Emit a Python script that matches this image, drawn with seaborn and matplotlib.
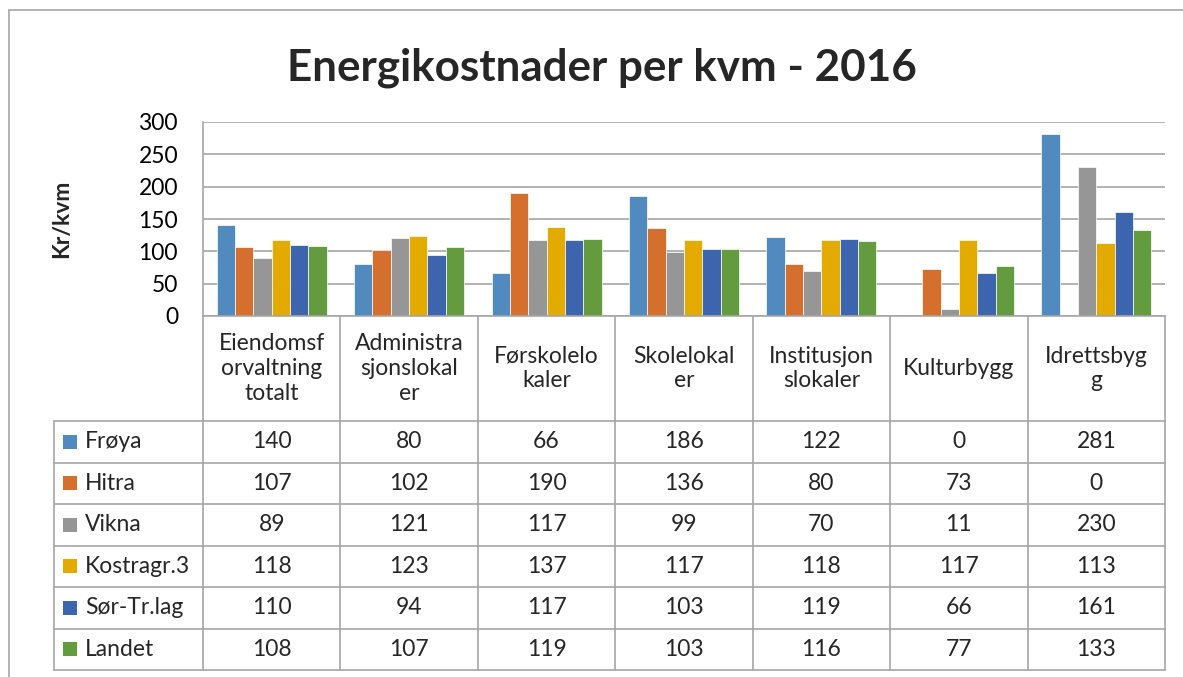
import numpy as np
import pandas as pd
import matplotlib
matplotlib.use('Agg')
import matplotlib.pyplot as plt
from matplotlib.patches import Rectangle
import seaborn as sns

kategorier = ['Eiendomsforvaltning totalt', 'Administrasjonslokaler', 'Førskolelokaler',
              'Skolelokaler', 'Institusjonslokaler', 'Kulturbygg', 'Idrettsbygg']
kategori_etiketter = ['Eiendomsf\norvaltning\ntotalt', 'Administra\nsjonslokal\ner',
                      'Førskolelo\nkaler', 'Skolelokal\ner', 'Institusjon\nslokaler',
                      'Kulturbygg', 'Idrettsbyg\ng']
serier = ['Frøya', 'Hitra', 'Vikna', 'Kostragr.3', 'Sør-Tr.lag', 'Landet']

froya = [140, 80, 66, 186, 122, 0, 281]
hitra = [107, 102, 190, 136, 80, 73, 0]
vikna = [89, 121, 117, 99, 70, 11, 230]
kostragr3 = [118, 123, 137, 117, 118, 117, 113]
sor_tr_lag = [110, 94, 117, 103, 119, 66, 161]
landet = [108, 107, 119, 103, 116, 77, 133]

farger = ['#508ABE', '#D46F2D', '#969696', '#E3AA00', '#3D65AE', '#659B3F']

verdier = [froya, hitra, vikna, kostragr3, sor_tr_lag, landet]
rader = []
for s, vals in zip(serier, verdier):
    for k, v in zip(kategorier, vals):
        rader.append({'serie': s, 'kategori': k, 'verdi': v})
df = pd.DataFrame(rader)

sns.set_theme(style='white')
plt.rcParams['font.family'] = ['Lato', 'DejaVu Sans']

W, H = 1183, 677
fig = plt.figure(figsize=(W / 100, H / 100), dpi=100)
fig.patch.set_facecolor('white')

fs = 16.5

# plotområde
x0, x1, ytop, ybot = 203, 1165, 122, 316
ax = fig.add_axes([x0 / W, 1 - ybot / H, (x1 - x0) / W, (ybot - ytop) / H])
sns.barplot(data=df, x='kategori', y='verdi', hue='serie', order=kategorier,
            hue_order=serier, palette=farger, saturation=1, width=0.8,
            edgecolor='white', linewidth=0.5, legend=False, ax=ax)
ax.set_xlim(-0.5, len(kategorier) - 0.5)
ax.set_ylim(0, 300)
ax.set_yticks(range(0, 301, 50))
ax.set_xticks([])
ax.set_xlabel('')
ax.set_ylabel('')
ax.yaxis.grid(True, color='#A6A6A6', linewidth=1.2)
ax.set_axisbelow(True)
ax.tick_params(axis='y', labelsize=fs, length=0, pad=18, labelcolor='black')
for side in ['top', 'right']:
    ax.spines[side].set_visible(False)
for side in ['left', 'bottom']:
    ax.spines[side].set_color('#A6A6A6')
    ax.spines[side].set_linewidth(1.2)

# overlay for tabell, tittel og ramme
ov = fig.add_axes([0, 0, 1, 1])
ov.set_xlim(0, W)
ov.set_ylim(H, 0)
ov.axis('off')
ov.patch.set_alpha(0)

linje = dict(color='#A6A6A6', linewidth=1.2)
ov.plot([9, 9], [10, H], **linje)
ov.plot([9, W], [10, 10], **linje)

fig.text(602 / W, 1 - 80 / H, 'Energikostnader per kvm - 2016', ha='center',
         va='baseline', fontsize=31.7, weight='bold')
fig.text(62 / W, 1 - 219 / H, 'Kr/kvm', rotation=90, ha='center', va='center',
         fontsize=16.5, weight='bold')

n = len(kategorier)
colw = (x1 - x0) / n
hdr_bot = 421
tab_bot = 670
tab_left = 54
rowh = (tab_bot - hdr_bot) / len(serier)

for i in range(n + 1):
    xx = x0 + i * colw
    ov.plot([xx, xx], [ybot, tab_bot], **linje)
ov.plot([tab_left, tab_left], [hdr_bot, tab_bot], **linje)
for r in range(len(serier) + 1):
    yy = hdr_bot + r * rowh
    ov.plot([tab_left, x1], [yy, yy], **linje)

for i, lab in enumerate(kategori_etiketter):
    cx = x0 + (i + 0.5) * colw
    ov.text(cx, (ybot + hdr_bot) / 2, lab, ha='center', va='center', fontsize=fs,
            linespacing=1.22)

for r, (s, vals) in enumerate(zip(serier, verdier)):
    cy = hdr_bot + (r + 0.5) * rowh
    ov.add_patch(Rectangle((63, cy - 7), 14, 14, color=farger[r], linewidth=0))
    ov.text(85, cy, s, ha='left', va='center', fontsize=fs)
    for i, v in enumerate(vals):
        cx = x0 + (i + 0.5) * colw
        ov.text(cx, cy, str(v), ha='center', va='center', fontsize=fs)

fig.savefig('out.png', dpi=100)
